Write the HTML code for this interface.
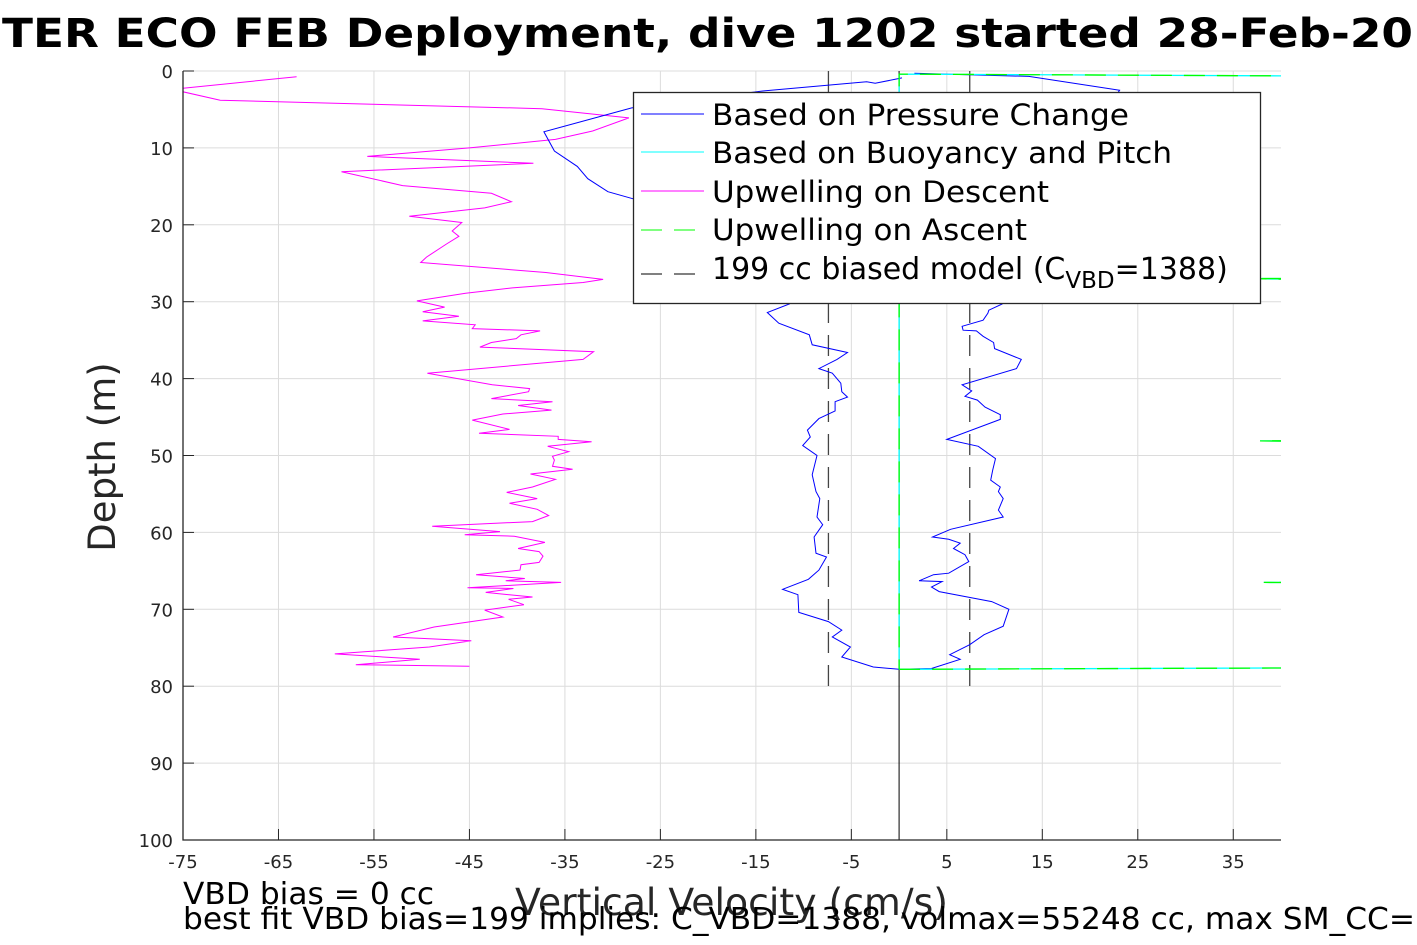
<!DOCTYPE html>
<html><head><meta charset="utf-8"><style>
html,body{margin:0;padding:0;background:#fff;}
svg{display:block;font-family:"DejaVu Sans","Liberation Sans",sans-serif;}
</style></head><body>
<svg id="chart" width="1417" height="945" viewBox="0 0 1417 945">
<text x="2" y="47" font-size="40" font-weight="bold" textLength="1411" lengthAdjust="spacingAndGlyphs">TER ECO FEB Deployment, dive 1202 started 28-Feb-20</text>
<g id="grid"></g>
<g id="series"></g>
<g id="axes"></g>
<g>
<rect x="633.5" y="92.5" width="627" height="211" fill="#fff" stroke="#262626" stroke-width="1.3"/>
<line x1="641" y1="114" x2="704" y2="114" stroke="#0000ff" stroke-width="1"/>
<text x="712" y="125" font-size="29" textLength="417" lengthAdjust="spacingAndGlyphs">Based on Pressure Change</text>
<line x1="641" y1="152" x2="704" y2="152" stroke="#00ffff" stroke-width="1"/>
<text x="712" y="163" font-size="29" textLength="460" lengthAdjust="spacingAndGlyphs">Based on Buoyancy and Pitch</text>
<line x1="641" y1="191" x2="704" y2="191" stroke="#ff00ff" stroke-width="1"/>
<text x="712" y="202" font-size="29" textLength="337" lengthAdjust="spacingAndGlyphs">Upwelling on Descent</text>
<line x1="641" y1="230" x2="704" y2="230" stroke="#00ff00" stroke-width="1" stroke-dasharray="21,12"/>
<text x="712" y="240" font-size="29" textLength="315" lengthAdjust="spacingAndGlyphs">Upwelling on Ascent</text>
<line x1="641" y1="274" x2="704" y2="274" stroke="#000" stroke-width="1" stroke-dasharray="21,12"/>
<text x="712" y="279" font-size="30">199 cc biased model (C<tspan dy="9" font-size="23">VBD</tspan><tspan dy="-9">=1388)</tspan></text>
</g>
<text x="115" y="457" font-size="37" fill="#262626" transform="rotate(-90 115 457)" text-anchor="middle">Depth (m)</text>
<text x="515" y="915" font-size="37" fill="#262626" textLength="433" lengthAdjust="spacingAndGlyphs">Vertical Velocity (cm/s)</text>
<text x="183" y="904" font-size="30" textLength="251" lengthAdjust="spacingAndGlyphs">VBD bias = 0 cc</text>
<text x="183" y="929" font-size="30" textLength="1232" lengthAdjust="spacingAndGlyphs">best fit VBD bias=199 implies: C_VBD=1388, volmax=55248 cc, max SM_CC=</text>
</svg>
<script>
const xTicks=[-75,-65,-55,-45,-35,-25,-15,-5,5,15,25,35];
const yTicks=[0,10,20,30,40,50,60,70,80,90,100];
const descentV=[-63.1,-75,-75,-71.1,-37.4,-28.3,-32.1,-36,-45,-55.7,-38.3,-58.4,-52,-42.7,-40.6,-43.4,-51.3,-45.8,-46.8,-46.1,-47.4,-49.5,-50.1,-37,-31,-33.1,-40.5,-45.4,-50.5,-47.6,-49.9,-46.1,-49.9,-44.4,-44.7,-37.6,-39.6,-40.1,-42.7,-43.9,-32,-33.1,-49.4,-42.6,-38.7,-38.8,-42.7,-36.3,-39.9,-36.4,-41.5,-44.7,-40.8,-44,-35.7,-35.7,-32.2,-36.8,-34.6,-36.3,-36.1,-36.3,-34.2,-38.6,-36,-38.4,-41.1,-37.9,-40.8,-37.9,-36.7,-38.4,-48.9,-41.8,-45.5,-40.3,-37.1,-39.9,-37.7,-37.3,-37.7,-39.6,-39.7,-44.3,-39.2,-41.2,-35.4,-45.2,-40.4,-43.3,-38.4,-40.9,-39.3,-43.4,-41.5,-48.7,-53,-44.8,-49.2,-59.1,-50.2,-56.9,-45];
const descentD=[0.74,2.25,2.7,3.8,4.9,6.1,7.8,8.9,10,11.1,12,13.1,14.9,15.9,17,17.8,18.9,19.7,20.8,21.5,22.5,24.2,24.9,26.2,27.1,27.5,28.2,28.9,29.9,30.7,31.3,31.9,32.5,33,33.5,33.8,34.3,34.8,35.3,35.9,36.5,37.5,39.3,40.8,41.3,41.7,42.6,43,43.5,44.1,44.6,45.4,46.6,47.1,47.5,47.9,48.2,48.8,49.5,50.1,50.6,51.4,51.8,52.4,53.1,54.1,54.8,55.6,56.2,57,57.8,58.6,59.2,59.9,60.3,60.5,61.3,62.1,62.5,63.1,63.9,64.2,64.9,65.5,66,66.3,66.5,67.2,67.3,67.8,68.4,68.7,69.4,70.1,71,72.3,73.6,74.1,74.9,75.8,76.5,77.2,77.4];
const pressDownV=[0.3,-2.5,-3.4,-14.3,-28,-37.2,-36.1,-33.7,-32.6,-30.5,-27.9,-20,-14,-11.5,-13.8,-12.6,-9.4,-9.1,-5.4,-6.5,-8.4,-7,-6.1,-6,-5.4,-6.7,-6.7,-8.4,-9.6,-9.3,-10.1,-8.6,-9.1,-8.7,-8.3,-8.6,-8,-8.9,-8.7,-7.6,-8.4,-9.5,-12.2,-10.6,-10.5,-7.4,-6,-7,-5.1,-6,-2.7,0];
const pressDownD=[0.9,1.6,1.4,2.6,4.8,7.9,10.4,12.4,14,15.7,16.6,20,25,30.3,31.4,32.8,34.3,35.6,36.6,37.5,38.7,39.3,40.6,41.7,42.4,43,44.2,45.2,46.7,47.6,48.7,50,52.5,54.7,55.6,58,59,60.6,62.7,63.2,64.9,66.1,67.4,68.1,70.4,71.6,72.7,73.6,74.9,76.2,77.5,77.8];
const pressUpV=[0,3.4,6.4,5.3,7.4,8.9,10.9,11.5,9.7,4.2,3.4,4.5,2.1,3.6,5.2,7.3,6.9,5.7,6.4,5.2,3.5,5.4,10.9,10.4,10.9,10.4,10.6,9.6,9.8,10.1,8.3,5,10.6,10.6,9,8.2,6.9,7.6,6.6,12.3,12.8,10,9.9,8.8,8.1,6.7,6.6,8.8,9.3,9.4,10.8,14,23.1,13.6,1.6];
const pressUpD=[77.8,77.7,76.5,75.9,74.6,73.3,72.2,70,69,67.7,67.1,66.4,66.3,65.5,65.3,63.8,62.9,62.1,61.4,60.9,60.6,59.6,58,57.1,55.6,54.7,54.1,53.2,51.9,50.4,48.8,47.9,45.3,44.7,43.7,42.8,42.3,41.6,40.8,38.7,37.5,36.1,35.3,34.5,33.8,33.7,33.2,32.4,31.5,31.1,30.3,20,2.5,0.7,0.3];
const ascentV=[0,70,70,36.5,70,70,37.8,70,70,38.2,70,70,0,0];
const ascentD=[77.8,77.5,27.6,27.0,26.9,48.6,48.1,47.9,66.7,66.5,66.4,0.8,0.4,77.8];
const modelV=[-7.4,7.4];
const modelDepthRange=[0,80.5];

const X0=183,X1=1281,Y0=71,Y1=840,XMIN=-75,XMAX=40,YMIN=0,YMAX=100;
function sx(v){return X0+(v-XMIN)/(XMAX-XMIN)*(X1-X0);}
function sy(d){return Y0+(d-YMIN)/(YMAX-YMIN)*(Y1-Y0);}
const NS='http://www.w3.org/2000/svg';
function mk(tag,attrs,parent){const e=document.createElementNS(NS,tag);for(const k in attrs)e.setAttribute(k,attrs[k]);parent.appendChild(e);return e;}
const grid=document.getElementById('grid'),axes=document.getElementById('axes'),series=document.getElementById('series');
xTicks.forEach(t=>{
 const g=mk('line',{x1:sx(t),x2:sx(t),y1:Y0,y2:Y1,stroke:'#dcdcdc','stroke-width':1},grid);
 
 
 const tk=mk('line',{x1:sx(t),x2:sx(t),y1:Y1,y2:Y1-11,stroke:'#262626','stroke-width':1},axes);
 
 
 const tx=mk('text',{x:sx(t),y:Y1+28,'font-size':18,'text-anchor':'middle',fill:'#262626'},axes);
 tx.textContent=String(t);
 
 
});
yTicks.forEach(t=>{
 const g=mk('line',{x1:X0,x2:X1,y1:sy(t),y2:sy(t),stroke:'#dcdcdc','stroke-width':1},grid);
 
 
 const tk=mk('line',{x1:X0,x2:X0+11,y1:sy(t),y2:sy(t),stroke:'#262626','stroke-width':1},axes);
 
 
 const tx=mk('text',{x:X0-10,y:sy(t)+7,'font-size':18,'text-anchor':'end',fill:'#262626'},axes);
 tx.textContent=String(t);
 
 
});
const ax=mk('path',{d:`M${X0},${Y0}V${Y1}H${X1}`,fill:'none',stroke:'#262626','stroke-width':1.3},axes);


const defs=mk('defs',{},series);
const cp=mk('clipPath',{id:'clip'},defs);
mk('rect',{x:X0,y:Y0-3,width:X1-X0,height:Y1-Y0+3},cp);
function pts(vs,ds){return vs.map((v,i)=>sx(v).toFixed(1)+','+sy(ds[i]).toFixed(1)).join(' ');}
const zero=mk('line',{x1:sx(0),x2:sx(0),y1:Y0,y2:Y1,stroke:'#000','stroke-width':1},series);


modelV.forEach(v=>{
 const l=mk('line',{x1:sx(v),x2:sx(v),y1:sy(modelDepthRange[0]),y2:sy(modelDepthRange[1]),stroke:'#444','stroke-width':1.3,'stroke-dasharray':'21,12'},series);
 
 
});
const desc=mk('polyline',{points:pts(descentV,descentD),fill:'none',stroke:'#ff00ff','stroke-width':1,'clip-path':'url(#clip)'},series);


const pd=mk('polyline',{points:pts(pressDownV,pressDownD),fill:'none',stroke:'#0000ff','stroke-width':1,'clip-path':'url(#clip)'},series);


const pu=mk('polyline',{points:pts(pressUpV,pressUpD),fill:'none',stroke:'#0000ff','stroke-width':1,'clip-path':'url(#clip)'},series);


const bu=mk('polyline',{points:pts(ascentV,ascentD),fill:'none',stroke:'#00ffff','stroke-width':1.3,'clip-path':'url(#clip)'},series);


const as=mk('polyline',{points:pts(ascentV,ascentD),fill:'none',stroke:'#00ff00','stroke-width':1.3,'stroke-dasharray':'21,12','clip-path':'url(#clip)'},series);


</script>
</body></html>
